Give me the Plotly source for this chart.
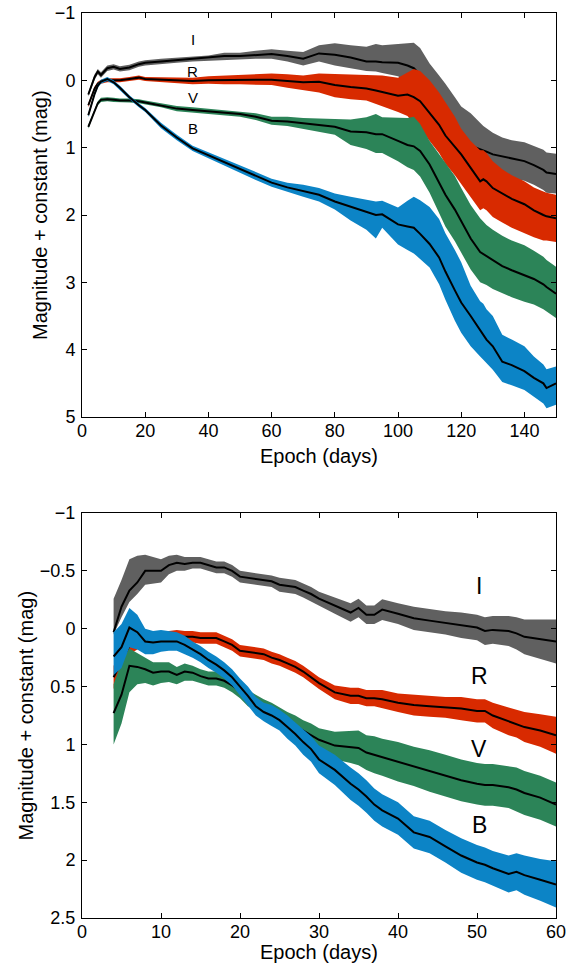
import plotly.graph_objects as go

# ---------------- data: top panel (0-150 d) ----------------
days_top = [2, 4, 5, 6, 8, 10, 12, 15, 18, 20, 25, 30, 35, 40, 45, 50, 55, 60, 65, 70, 75,
            80, 85, 90, 93, 95, 100, 103, 105, 107, 110, 113, 115, 118, 120, 123, 126, 127,
            128, 130, 133, 136, 140, 143, 146, 147, 150]

I_top = [0.21, -0.05, -0.13, -0.08, -0.18, -0.20, -0.17, -0.19, -0.24, -0.26, -0.28, -0.30,
         -0.32, -0.33, -0.36, -0.36, -0.38, -0.39, -0.36, -0.32, -0.40, -0.38, -0.34, -0.28,
         -0.28, -0.27, -0.26, -0.22, -0.18, -0.08, 0.15, 0.38, 0.55, 0.75, 0.88, 0.97, 1.02,
         1.04, 1.06, 1.10, 1.13, 1.16, 1.20, 1.26, 1.33, 1.37, 1.39]
I_top_up = [0.03, 0.04, 0.04, 0.04, 0.04, 0.04, 0.04, 0.04, 0.04, 0.04, 0.04, 0.04, 0.04, 0.04,
            0.05, 0.05, 0.06, 0.07, 0.08, 0.10, 0.12, 0.17, 0.18, 0.22, 0.26, 0.25, 0.28, 0.33,
            0.38, 0.40, 0.40, 0.45, 0.50, 0.50, 0.49, 0.48, 0.38, 0.36, 0.35, 0.32, 0.28, 0.27,
            0.28, 0.29, 0.30, 0.30, 0.30]
I_top_dn = [0.03, 0.04, 0.04, 0.04, 0.04, 0.04, 0.04, 0.04, 0.04, 0.04, 0.04, 0.04, 0.04, 0.04,
            0.05, 0.05, 0.06, 0.07, 0.08, 0.10, 0.12, 0.16, 0.16, 0.14, 0.15, 0.16, 0.20, 0.25,
            0.30, 0.35, 0.40, 0.42, 0.42, 0.40, 0.38, 0.35, 0.33, 0.32, 0.30, 0.30, 0.29, 0.29,
            0.29, 0.29, 0.30, 0.30, 0.29]

R_top = [0.37, 0.12, 0.05, 0.02, 0.00, 0.00, 0.00, -0.02, -0.04, -0.02, -0.01, 0.00, 0.01, 0.00,
         0.00, 0.00, -0.01, -0.01, 0.01, 0.03, 0.02, 0.07, 0.10, 0.12, 0.15, 0.17, 0.23, 0.21,
         0.25, 0.31, 0.48, 0.66, 0.82, 0.99, 1.10, 1.30, 1.50, 1.47, 1.50, 1.60, 1.68, 1.76,
         1.84, 1.93, 2.00, 2.02, 2.05]
R_top_up = [0.03, 0.03, 0.03, 0.03, 0.03, 0.03, 0.03, 0.03, 0.03, 0.03, 0.04, 0.04, 0.05, 0.06,
            0.07, 0.09, 0.09, 0.09, 0.10, 0.10, 0.12, 0.16, 0.18, 0.20, 0.22, 0.24, 0.27, 0.33,
            0.42, 0.45, 0.48, 0.48, 0.50, 0.45, 0.38, 0.40, 0.46, 0.43, 0.42, 0.40, 0.36, 0.35,
            0.34, 0.34, 0.35, 0.35, 0.35]
R_top_dn = [0.03, 0.03, 0.03, 0.03, 0.03, 0.03, 0.03, 0.03, 0.03, 0.03, 0.04, 0.04, 0.05, 0.05,
            0.06, 0.06, 0.07, 0.08, 0.10, 0.12, 0.16, 0.18, 0.18, 0.18, 0.20, 0.22, 0.24, 0.32,
            0.39, 0.40, 0.42, 0.42, 0.42, 0.42, 0.43, 0.43, 0.43, 0.43, 0.43, 0.43, 0.43, 0.43,
            0.43, 0.40, 0.38, 0.36, 0.35]

V_top = [0.69, 0.44, 0.34, 0.29, 0.28, 0.29, 0.30, 0.30, 0.31, 0.33, 0.37, 0.42, 0.44, 0.46,
         0.48, 0.50, 0.54, 0.60, 0.61, 0.64, 0.67, 0.69, 0.76, 0.77, 0.80, 0.80, 0.90, 0.96,
         0.98, 1.05, 1.25, 1.52, 1.70, 1.92, 2.10, 2.35, 2.55, 2.58, 2.62, 2.68, 2.76, 2.82,
         2.89, 2.95, 3.03, 3.07, 3.17]
V_top_up = [0.03, 0.03, 0.03, 0.03, 0.03, 0.03, 0.03, 0.03, 0.03, 0.03, 0.03, 0.04, 0.04, 0.04,
            0.04, 0.04, 0.05, 0.06, 0.07, 0.08, 0.10, 0.12, 0.18, 0.22, 0.30, 0.25, 0.35, 0.40,
            0.44, 0.40, 0.35, 0.42, 0.47, 0.50, 0.50, 0.50, 0.50, 0.48, 0.47, 0.46, 0.45, 0.44,
            0.44, 0.42, 0.41, 0.40, 0.40]
V_top_dn = [0.03, 0.03, 0.03, 0.03, 0.03, 0.03, 0.03, 0.03, 0.03, 0.03, 0.03, 0.04, 0.04, 0.04,
            0.04, 0.04, 0.05, 0.06, 0.07, 0.08, 0.10, 0.12, 0.20, 0.25, 0.28, 0.28, 0.30, 0.33,
            0.35, 0.38, 0.42, 0.45, 0.47, 0.47, 0.46, 0.46, 0.45, 0.44, 0.42, 0.42, 0.40, 0.40,
            0.40, 0.38, 0.37, 0.36, 0.36]

B_top = [0.52, 0.20, 0.08, 0.02, -0.02, 0.03, 0.11, 0.25, 0.37, 0.44, 0.67, 0.85, 1.01, 1.11,
         1.21, 1.32, 1.42, 1.52, 1.59, 1.64, 1.70, 1.80, 1.88, 1.96, 2.00, 1.99, 2.14, 2.17,
         2.19, 2.28, 2.43, 2.63, 2.84, 3.12, 3.30, 3.50, 3.70, 3.77, 3.85, 3.95, 4.18, 4.23,
         4.32, 4.42, 4.50, 4.57, 4.50]
B_top_up = [0.03, 0.03, 0.03, 0.03, 0.03, 0.03, 0.03, 0.03, 0.03, 0.03, 0.04, 0.04, 0.04, 0.04,
            0.05, 0.05, 0.06, 0.06, 0.07, 0.09, 0.10, 0.12, 0.15, 0.18, 0.20, 0.20, 0.25, 0.38,
            0.46, 0.50, 0.55, 0.57, 0.57, 0.60, 0.60, 0.45, 0.42, 0.45, 0.45, 0.45, 0.40, 0.38,
            0.37, 0.32, 0.28, 0.28, 0.25]
B_top_dn = [0.03, 0.03, 0.03, 0.03, 0.03, 0.03, 0.03, 0.03, 0.03, 0.03, 0.04, 0.04, 0.04, 0.04,
            0.05, 0.05, 0.06, 0.06, 0.07, 0.09, 0.10, 0.12, 0.20, 0.26, 0.35, 0.20, 0.30, 0.35,
            0.38, 0.38, 0.35, 0.40, 0.42, 0.45, 0.45, 0.45, 0.40, 0.38, 0.36, 0.35, 0.30, 0.30,
            0.28, 0.28, 0.30, 0.30, 0.32]

# ---------------- data: bottom panel (0-60 d) ----------------
days_bot = [4, 5, 6, 7, 8, 9, 10, 11, 12, 13, 14, 15, 16, 17, 18, 19, 20, 21, 22, 23, 24, 25,
            26, 27, 28, 29, 30, 32, 34, 35, 36, 37, 38, 40, 42, 44, 46, 48, 50, 51, 52, 54,
            55, 56, 58, 60]

I_bot = [0.03, -0.19, -0.33, -0.40, -0.50, -0.50, -0.50, -0.55, -0.57, -0.56, -0.57, -0.57,
         -0.55, -0.53, -0.53, -0.50, -0.45, -0.44, -0.43, -0.42, -0.41, -0.38, -0.37, -0.36,
         -0.33, -0.30, -0.26, -0.20, -0.14, -0.18, -0.12, -0.12, -0.165, -0.13, -0.09, -0.07,
         -0.05, -0.03, -0.01, 0.02, 0.01, 0.02, 0.04, 0.07, 0.09, 0.11]
I_bot_up = [0.29, 0.23, 0.27, 0.23, 0.14, 0.12, 0.10, 0.08, 0.07, 0.06, 0.05, 0.05, 0.05, 0.05,
            0.05, 0.05, 0.05, 0.05, 0.05, 0.05, 0.05, 0.06, 0.06, 0.06, 0.06, 0.06, 0.06, 0.07,
            0.08, 0.08, 0.08, 0.08, 0.09, 0.09, 0.10, 0.10, 0.10, 0.11, 0.11, 0.12, 0.12, 0.13,
            0.14, 0.15, 0.17, 0.19]
I_bot_dn = [0.02, 0.09, 0.10, 0.10, 0.12, 0.11, 0.10, 0.08, 0.07, 0.06, 0.05, 0.05, 0.05, 0.05,
            0.05, 0.05, 0.05, 0.05, 0.05, 0.05, 0.05, 0.06, 0.06, 0.06, 0.06, 0.06, 0.06, 0.07,
            0.08, 0.08, 0.08, 0.08, 0.09, 0.09, 0.10, 0.10, 0.10, 0.11, 0.11, 0.12, 0.12, 0.13,
            0.14, 0.15, 0.17, 0.19]

R_bot = [0.42, 0.28, 0.15, 0.12, 0.10, 0.09, 0.08, 0.08, 0.07, 0.07, 0.07, 0.08, 0.08, 0.08,
         0.11, 0.14, 0.19, 0.20, 0.21, 0.22, 0.25, 0.27, 0.30, 0.33, 0.37, 0.42, 0.47, 0.55,
         0.58, 0.58, 0.60, 0.60, 0.61, 0.64, 0.66, 0.67, 0.68, 0.69, 0.71, 0.71, 0.75, 0.80,
         0.82, 0.85, 0.88, 0.92]
R_bot_w = [0.10, 0.08, 0.07, 0.06, 0.06, 0.06, 0.06, 0.06, 0.06, 0.05, 0.05, 0.05, 0.05, 0.05,
           0.05, 0.05, 0.05, 0.05, 0.05, 0.05, 0.05, 0.05, 0.05, 0.05, 0.05, 0.05, 0.05, 0.06,
           0.07, 0.07, 0.07, 0.07, 0.08, 0.08, 0.09, 0.09, 0.09, 0.10, 0.10, 0.10, 0.11, 0.12,
           0.12, 0.13, 0.14, 0.16]

V_bot = [0.73, 0.57, 0.32, 0.33, 0.35, 0.38, 0.37, 0.37, 0.40, 0.37, 0.38, 0.41, 0.43, 0.43,
         0.45, 0.49, 0.54, 0.60, 0.64, 0.68, 0.72, 0.76, 0.80, 0.84, 0.88, 0.92, 0.96, 1.01,
         1.02, 1.03, 1.07, 1.09, 1.11, 1.15, 1.19, 1.23, 1.27, 1.31, 1.34, 1.35, 1.35, 1.37,
         1.39, 1.42, 1.46, 1.52]
V_bot_up = [0.25, 0.28, 0.15, 0.12, 0.10, 0.09, 0.08, 0.08, 0.07, 0.07, 0.06, 0.06, 0.06, 0.06,
            0.06, 0.06, 0.06, 0.07, 0.07, 0.07, 0.08, 0.08, 0.08, 0.09, 0.09, 0.10, 0.10, 0.12,
            0.14, 0.15, 0.15, 0.16, 0.16, 0.17, 0.17, 0.18, 0.18, 0.18, 0.18, 0.18, 0.18, 0.18,
            0.19, 0.19, 0.19, 0.19]
V_bot_dn = [0.27, 0.25, 0.23, 0.15, 0.12, 0.11, 0.10, 0.09, 0.08, 0.08, 0.07, 0.06, 0.06, 0.06,
            0.06, 0.06, 0.06, 0.07, 0.07, 0.07, 0.08, 0.08, 0.08, 0.09, 0.09, 0.10, 0.10, 0.12,
            0.14, 0.15, 0.15, 0.16, 0.16, 0.17, 0.17, 0.18, 0.18, 0.18, 0.18, 0.18, 0.18, 0.18,
            0.19, 0.19, 0.19, 0.19]

B_bot = [0.24, 0.16, -0.01, 0.03, 0.11, 0.12, 0.11, 0.11, 0.11, 0.14, 0.18, 0.22, 0.27, 0.31,
         0.36, 0.42, 0.50, 0.58, 0.67, 0.72, 0.75, 0.79, 0.85, 0.91, 0.98, 1.04, 1.13, 1.22,
         1.34, 1.39, 1.45, 1.52, 1.57, 1.64, 1.76, 1.80, 1.88, 1.96, 2.02, 2.04, 2.07, 2.12,
         2.10, 2.13, 2.17, 2.21]
B_bot_up = [0.21, 0.20, 0.17, 0.15, 0.11, 0.10, 0.10, 0.09, 0.08, 0.08, 0.07, 0.07, 0.07, 0.07,
            0.07, 0.07, 0.07, 0.08, 0.08, 0.08, 0.09, 0.09, 0.10, 0.10, 0.11, 0.11, 0.12, 0.13,
            0.14, 0.14, 0.14, 0.14, 0.14, 0.14, 0.14, 0.14, 0.14, 0.15, 0.15, 0.15, 0.15, 0.16,
            0.16, 0.17, 0.18, 0.20]
B_bot_dn = [0.16, 0.18, 0.17, 0.15, 0.11, 0.10, 0.09, 0.08, 0.08, 0.08, 0.07, 0.07, 0.07, 0.07,
            0.07, 0.07, 0.07, 0.08, 0.08, 0.08, 0.09, 0.09, 0.10, 0.10, 0.11, 0.11, 0.12, 0.13,
            0.14, 0.14, 0.14, 0.14, 0.14, 0.14, 0.14, 0.14, 0.14, 0.15, 0.15, 0.15, 0.15, 0.16,
            0.16, 0.17, 0.18, 0.20]

band_names = ["I", "R", "V", "B"]
band_colors = {"I": "rgb(96,96,96)", "R": "rgb(216,42,0)", "V": "rgb(44,132,88)", "B": "rgb(12,132,198)"}

label_top = {"I": (35, -0.6), "R": (35, -0.13), "V": (35, 0.25), "B": (35, 0.72)}
label_bot = {"I": (50.3, -0.37), "R": (50.3, 0.41), "V": (50.3, 1.04), "B": (50.3, 1.70)}

top_series = {
    "I": (I_top, I_top_up, I_top_dn),
    "R": (R_top, R_top_up, R_top_dn),
    "V": (V_top, V_top_up, V_top_dn),
    "B": (B_top, B_top_up, B_top_dn),
}
bot_series = {
    "I": (I_bot, I_bot_up, I_bot_dn),
    "R": (R_bot, R_bot_w, R_bot_w),
    "V": (V_bot, V_bot_up, V_bot_dn),
    "B": (B_bot, B_bot_up, B_bot_dn),
}

FONT = "Liberation Sans, Arial, Helvetica, sans-serif"
W, H = 567, 963
ML, MR, MT, MB = 82, 11, 13, 45
TOP_DOM = [0.5536, 1.0]
BOT_DOM = [0.0, 0.4475]
PW = W - ML - MR
PH = H - MT - MB

fig = go.Figure()


def add_panel(days, series, xa, ya):
    for name in band_names:
        mag, up, dn = series[name]
        bright = [m - u for m, u in zip(mag, up)]
        faint = [m + d for m, d in zip(mag, dn)]
        fig.add_trace(go.Scatter(
            x=list(days) + list(days[::-1]), y=bright + faint[::-1],
            fill="toself", fillcolor=band_colors[name], mode="lines",
            line=dict(width=0, color=band_colors[name]),
            hoverinfo="skip", showlegend=False, xaxis=xa, yaxis=ya))
        fig.add_trace(go.Scatter(
            x=days, y=mag, mode="lines", line=dict(color="black", width=2),
            showlegend=False, name=name, xaxis=xa, yaxis=ya))


add_panel(days_top, top_series, "x", "y")
add_panel(days_bot, bot_series, "x2", "y2")

for name in band_names:
    tx, ty = label_top[name]
    fig.add_annotation(x=tx, y=ty, xref="x", yref="y", text=name, showarrow=False,
                       font=dict(family=FONT, size=15, color="black"))
    bx, by = label_bot[name]
    fig.add_annotation(x=bx, y=by, xref="x2", yref="y2", text=name, showarrow=False,
                       font=dict(family=FONT, size=23, color="black"))


def px_to_paper_y(ypix):
    return (H - MB - ypix) / PH


# y-axis titles placed as rotated text in the left margin
for dom, xpix in ((TOP_DOM, 40), (BOT_DOM, 26)):
    fig.add_annotation(
        x=-(ML - xpix) / PW, y=(dom[0] + dom[1]) / 2, xref="paper", yref="paper",
        text="Magnitude + constant (mag)", textangle=-90, showarrow=False,
        xanchor="center", yanchor="middle",
        font=dict(family=FONT, size=20, color="black"))

# x-axis titles
for ypix in (456, 952):
    fig.add_annotation(
        x=0.5, y=px_to_paper_y(ypix), xref="paper", yref="paper",
        text="Epoch (days)", showarrow=False, xanchor="center", yanchor="middle",
        font=dict(family=FONT, size=20, color="black"))

axis_common = dict(
    showline=True, linecolor="black", linewidth=1, mirror="ticks",
    ticks="inside", ticklen=5, tickwidth=1, tickcolor="black",
    showgrid=False, zeroline=False, automargin=False,
    tickfont=dict(family=FONT, size=18, color="black"),
)

fig.update_layout(
    width=W, height=H,
    margin=dict(l=ML, r=MR, t=MT, b=MB, autoexpand=False),
    paper_bgcolor="white", plot_bgcolor="white",
    showlegend=False,
    xaxis=dict(domain=[0, 1], range=[0, 150], tickvals=[0, 20, 40, 60, 80, 100, 120, 140],
               anchor="y", ticklabelstandoff=-3, **axis_common),
    yaxis=dict(domain=TOP_DOM, range=[5, -1], dtick=1, anchor="x",
               ticklabelstandoff=2, **axis_common),
    xaxis2=dict(domain=[0, 1], range=[0, 60], dtick=10, anchor="y2",
                ticklabelstandoff=-3, **axis_common),
    yaxis2=dict(domain=BOT_DOM, range=[2.5, -1], dtick=0.5, anchor="x2",
                ticklabelstandoff=2, **axis_common),
)

fig.write_html("out.html")
